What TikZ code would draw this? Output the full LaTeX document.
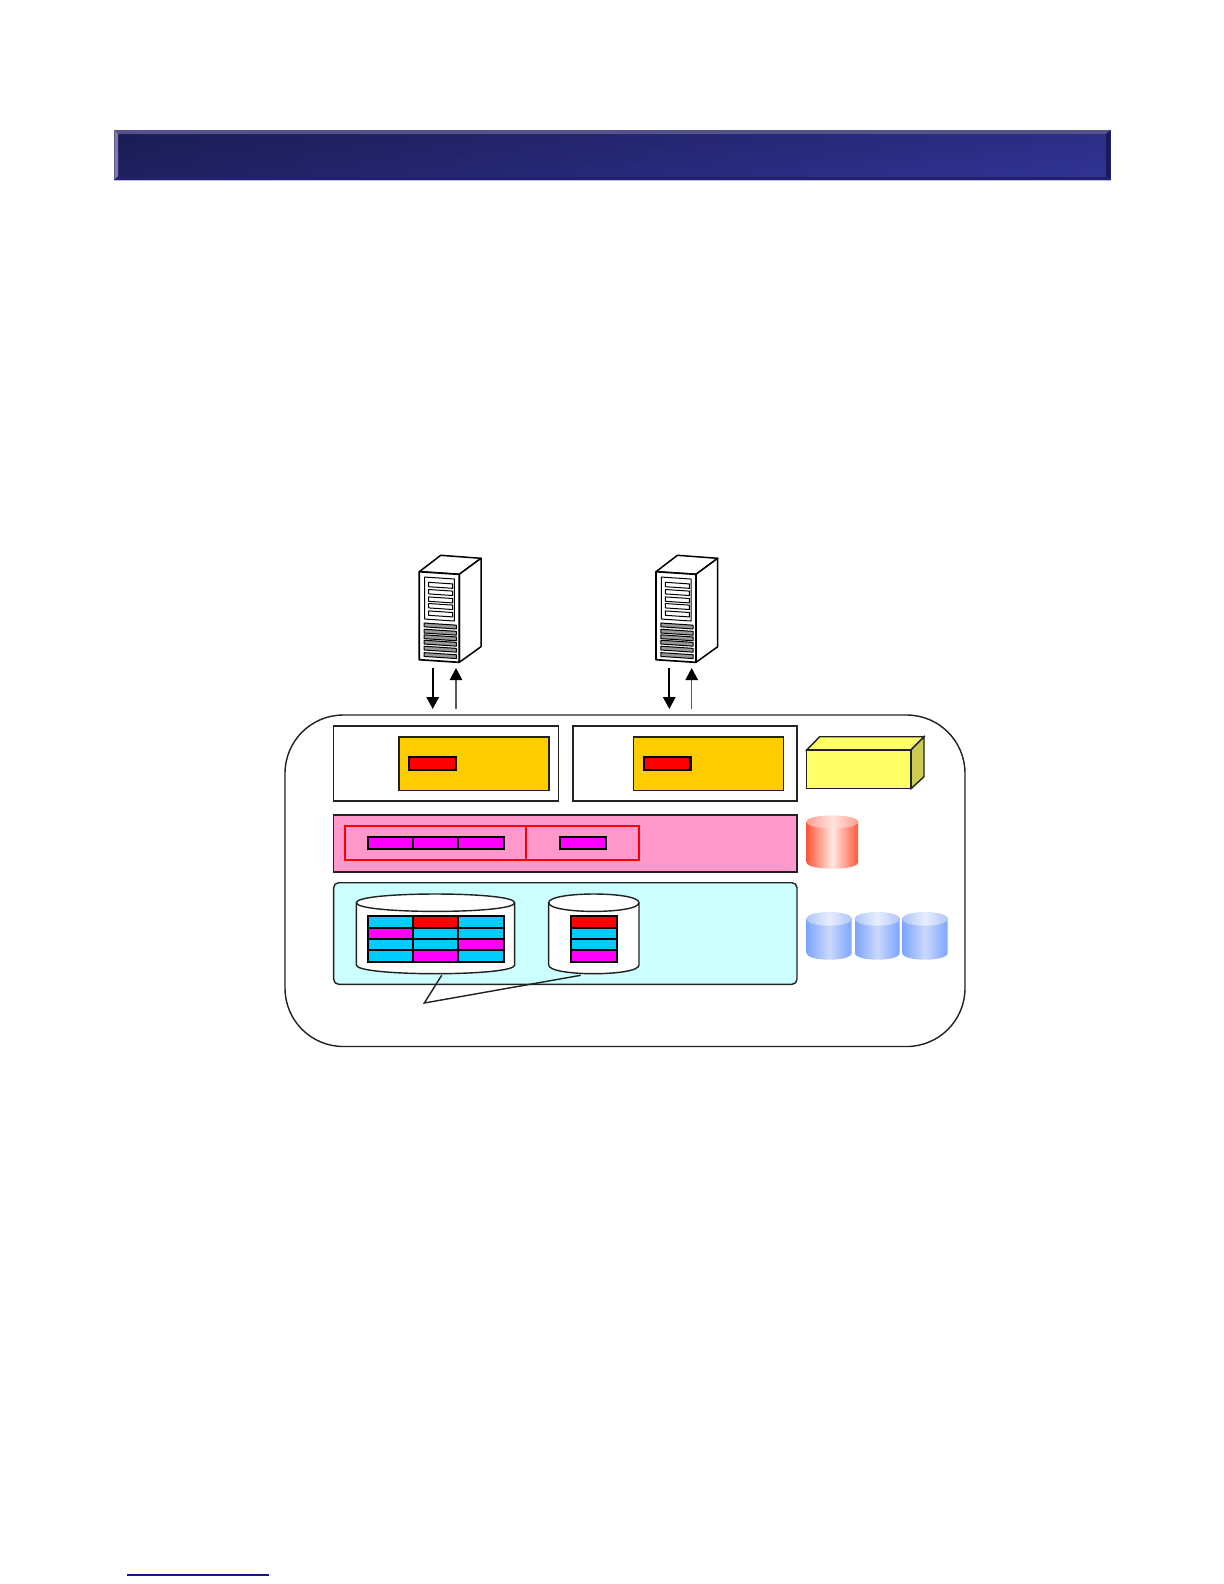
\documentclass[tikz,border=0pt]{standalone}
\usetikzlibrary{arrows.meta,fadings}
\definecolor{orangefill}{HTML}{FFCC00}
\definecolor{pinkfill}{HTML}{FF99CC}
\definecolor{cyanfill}{HTML}{CCFFFF}
\definecolor{cellblue}{HTML}{00CCFF}
\definecolor{cellmag}{HTML}{FF00FF}
\definecolor{yellowfront}{HTML}{FFFF66}
\definecolor{yellowside}{HTML}{CCCC52}
\definecolor{lineblack}{HTML}{222222}
\definecolor{barleft}{HTML}{1F205F}
\definecolor{barmid}{HTML}{2A2C82}
\definecolor{barright}{HTML}{313396}
\definecolor{bevtop}{HTML}{54528A}
\definecolor{bevleft}{HTML}{7C7CAC}
\definecolor{bevright}{HTML}{1A1A58}
\definecolor{bevbot}{HTML}{20206E}
\definecolor{barglow}{HTML}{BEBEE1}
\definecolor{footblue}{HTML}{141496}
\definecolor{redcap}{HTML}{FFA091}
\definecolor{redbody}{HTML}{FF583C}
\definecolor{redmid}{HTML}{FFE8E2}
\definecolor{bluecap}{HTML}{B0C6F8}
\definecolor{bluebody}{HTML}{7DA5FF}
\definecolor{bluemid}{HTML}{CAD8FA}
\tikzset{
  panel/.style={draw=lineblack,line width=0.85pt},
  thickcell/.style={draw=black,line width=1.25pt},
  flowdown/.style={-{Triangle[width=7.4pt,length=7.2pt]},line width=1.25pt,draw=black},
  flowup/.style={-{Triangle[width=7.4pt,length=7.2pt,color=black]},line width=0.9pt,draw=black!65},
  servline/.style={draw=black,line width=0.6pt,line join=round},
  serverpic/.pic={
    \draw[servline,fill=white,line width=0.9pt] (0,0) -- (21.4,-16.4) -- (61.7,-13.4) -- (40,2.6) -- cycle;
    \draw[servline,fill=white,line width=0.9pt] (40,2.6) -- (61.7,-13.4) -- (61.7,75) -- (40,90.6) -- cycle;
    \begin{scope}[yslant=-0.066]
      \draw[servline,fill=white,line width=1pt] (0,0) rectangle (40,88);
      \draw[servline] (5.4,5) rectangle (35,47);
      \foreach \yy in {10,17.2,24.6,31.2,38.6}
        \draw[servline,fill=white] (9.4,\yy) rectangle (33.4,\yy+4.4);
      \foreach \yy in {51,57.2,62.8,68.2,74.2,80.6}
        \draw[servline,fill=black!40] (4.8,\yy) rectangle (37,\yy+3.8);
    \end{scope}
  }
}
\newcommand{\shadedcyl}[8]{% x1,x2,ytop,ybottom side,ry, cap, body, mid
  \shade[left color=#7,right color=#7,middle color=#8]
    (#1,#3) .. controls (#1,#3-1.333*#5) and (#2,#3-1.333*#5) .. (#2,#3)
    -- (#2,#4) .. controls (#2,#4+1.333*#5) and (#1,#4+1.333*#5) .. (#1,#4) -- cycle;
  \shade[left color=#6,right color=#6,middle color=white!70!#6]
    (#1,#3) .. controls (#1,#3-1.333*#5) and (#2,#3-1.333*#5) .. (#2,#3)
    .. controls (#2,#3+1.333*#5) and (#1,#3+1.333*#5) .. (#1,#3) -- cycle;
}
\newcommand{\drumcyl}[5]{% x1,x2,ytop center,yside bottom,ry
  \draw[panel,fill=white] (#1,#3) .. controls (#1,#3-1.333*#5) and (#2,#3-1.333*#5) .. (#2,#3)
    -- (#2,#4) .. controls (#2,#4+1.333*#5) and (#1,#4+1.333*#5) .. (#1,#4) -- cycle;
  \draw[panel] (#1,#3) .. controls (#1,#3+1.333*#5) and (#2,#3+1.333*#5) .. (#2,#3);
}
\begin{document}
\begin{tikzpicture}[x=0.6pt,y=-0.6pt]
\useasboundingbox (0,0) rectangle (1224,1584);
% title bar
\shade[left color=barleft,middle color=barmid,right color=barright] (114.3,130) rectangle (1110.7,180);
\fill[black,path fading=south,fill opacity=.1] (118,134) rectangle (1106,176);
\fill[bevtop] (114.3,130) -- (1110.7,130) -- (1106,134) -- (118,134) -- cycle;
\fill[bevleft] (114.3,130) -- (118,134) -- (118,176) -- (114.3,180) -- cycle;
\fill[bevright] (1110.7,130) -- (1106,134) -- (1106,176) -- (1110.7,180) -- cycle;
\fill[bevbot] (114.3,180) -- (118,177) -- (1106,177) -- (1110.7,180) -- cycle;
\draw[barglow,line width=0.4pt] (114.3,180.6) -- (1110.7,180.6);
% servers
\coordinate (srvA) at (419.3,571.7);
\coordinate (srvB) at (656,571.7);
\pic at (srvA) {serverpic};
\pic at (srvB) {serverpic};
% outer
\draw[panel,fill=white,rounded corners=35pt] (285,715) rectangle (965,1046.5);
% arrows
\coordinate (a1s) at (432.7,668); \coordinate (a1e) at (432.7,709);
\coordinate (a2s) at (456,709);   \coordinate (a2e) at (456,668);
\coordinate (a3s) at (669.3,668); \coordinate (a3e) at (669.3,709);
\coordinate (a4s) at (691.7,709); \coordinate (a4e) at (691.7,668);
\draw[flowdown] (a1s) -- (a1e);
\draw[flowup] (a2s) -- (a2e);
\draw[flowdown] (a3s) -- (a3e);
\draw[flowup] (a4s) -- (a4e);
% top boxes
\draw[panel,fill=white] (333.7,726) rectangle (558.3,801);
\draw[panel,fill=white] (573,726) rectangle (797,801);
\draw[panel,fill=orangefill] (399,737) rectangle (549,790.7);
\draw[panel,fill=orangefill] (633.7,737) rectangle (783.7,790.7);
\draw[thickcell,fill=red] (409.3,757) rectangle (455.7,769.7);
\draw[thickcell,fill=red] (644,757) rectangle (690.5,769.7);
% yellow box
\draw[panel,fill=yellowfront] (806.7,750) -- (819.7,736.7) -- (924,736.7) -- (911,750) -- cycle;
\draw[panel,fill=yellowside] (911,750) -- (924,736.7) -- (924,776.7) -- (911,788.7) -- cycle;
\draw[panel,fill=yellowfront] (806.7,750) rectangle (911,788.7);
% pink band
\draw[panel,fill=pinkfill] (333.7,815) rectangle (797,872);
\draw[red,line width=1.1pt] (345.3,826.3) rectangle (639.3,860);
\draw[red,line width=1.1pt] (526.3,826.3) -- (526.3,860);
\foreach \xa/\xb in {367.7/413,413/458.3,458.3/504,559.7/605.7}
  \draw[thickcell,fill=cellmag] (\xa,837.3) rectangle (\xb,849.3);
% red cylinder
\shadedcyl{806.7}{858}{822}{862.4}{6.35}{redcap}{redbody}{redmid}
% cyan band
\draw[panel,fill=cyanfill,rounded corners=3pt] (333.7,882.7) rectangle (797,984.3);
\drumcyl{356.3}{514.7}{902.7}{965}{8.7}
\drumcyl{548.7}{639}{902.7}{965}{8.7}
% grids
\foreach \xa/\xb/\ya/\yb/\cc in {
  367.7/413/916.3/928.3/cellblue, 413/458.3/916.3/928.3/red, 458.3/504/916.3/928.3/cellblue,
  367.7/413/928.3/939/cellmag, 413/458.3/928.3/939/cellblue, 458.3/504/928.3/939/cellblue,
  367.7/413/939/950.3/cellblue, 413/458.3/939/950.3/cellblue, 458.3/504/939/950.3/cellmag,
  367.7/413/950.3/962.3/cellblue, 413/458.3/950.3/962.3/cellmag, 458.3/504/950.3/962.3/cellblue,
  570.7/616.7/916.3/928.3/red, 570.7/616.7/928.3/939/cellblue,
  570.7/616.7/939/950.3/cellblue, 570.7/616.7/950.3/962.3/cellmag}
  \draw[thickcell,fill=\cc] (\xa,\ya) rectangle (\xb,\yb);
% callout
\coordinate (cA) at (441.7,975.3);
\coordinate (cB) at (424.3,1003);
\coordinate (cC) at (580.7,975.3);
\draw[panel,line join=miter] (cA) -- (cB) -- (cC);
% blue cylinders
\foreach \xa/\xb in {806.7/851.7,855/899.7,902.3/947.7}
  \shadedcyl{\xa}{\xb}{919}{953}{6.7}{bluecap}{bluebody}{bluemid}
% footer
\draw[footblue,line width=0.8pt] (127,1575) -- (268.7,1575);
\end{tikzpicture}
\end{document}
